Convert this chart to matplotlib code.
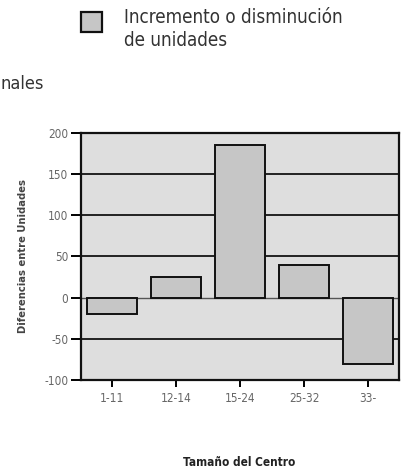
import numpy as np
import matplotlib
matplotlib.use("Agg")
import matplotlib.pyplot as plt
from matplotlib.patches import Rectangle

plt.rcParams['font.family'] = ['Liberation Sans Narrow', 'DejaVu Sans']
plt.rcParams['font.stretch'] = 'condensed'

### DATA ######################################################################
categories = ["1-11", "12-14", "15-24", "25-32", "33-"]
values = [-20, 25, 185, 40, -80]
y_ticks = [-100, -50, 0, 50, 100, 150, 200]
legend_text = "Incremento o disminución\nde unidades"

### PLOT ######################################################################
fig = plt.figure(figsize=(4.02, 4.70), dpi=100)
ax = fig.add_axes([81/402, 1-380/470, 318/402, 247/470])
ax.set_facecolor("#dedede")

x = np.arange(len(categories))
for yv in [-50, 50, 100, 150]:
    ax.axhline(yv, color="#222222", lw=1.4, zorder=1)
ax.axhline(0, color="#555555", lw=1.0, zorder=1)
ax.bar(x, values, width=0.78, color="#c6c6c6", edgecolor="#111111", lw=1.4, zorder=2)

ax.set_xlim(-0.49, 4.48)
ax.set_ylim(-100, 200)
ax.set_yticks(y_ticks)
ax.set_yticklabels([str(v) for v in y_ticks], fontsize=8.5, color="#666666")
ax.set_xticks(x)
ax.set_xticklabels(categories, fontsize=8.5, color="#666666")
ax.tick_params(axis="y", length=7, width=1.4, pad=2)
ax.tick_params(axis="x", length=5, width=1.4, pad=4)
for s in ax.spines.values():
    s.set_linewidth(1.6)
    s.set_color("#111111")

fig.text(23/402, 1-256/470, "Diferencias entre Unidades", fontsize=8, fontweight="bold",
         rotation=90, ha="center", va="center", color="#444444")
fig.text(239/402, 1-462/470, "Tamaño del Centro", fontsize=8.5, fontweight="bold",
         ha="center", va="center", color="#222222")

# legend
fig.patches.append(Rectangle((81/402, 1-32/470), 21/402, 20/470, transform=fig.transFigure,
                             facecolor="#c6c6c6", edgecolor="#111111", lw=1.6))
fig.text(124/402, 1-29/470, legend_text, fontsize=13.5, color="#333333",
         ha="left", va="center", linespacing=1.3)
fig.text(0, 1-84/470, "nales", fontsize=13, color="#333333", ha="left", va="center")

fig.savefig("out.png", dpi=100)
